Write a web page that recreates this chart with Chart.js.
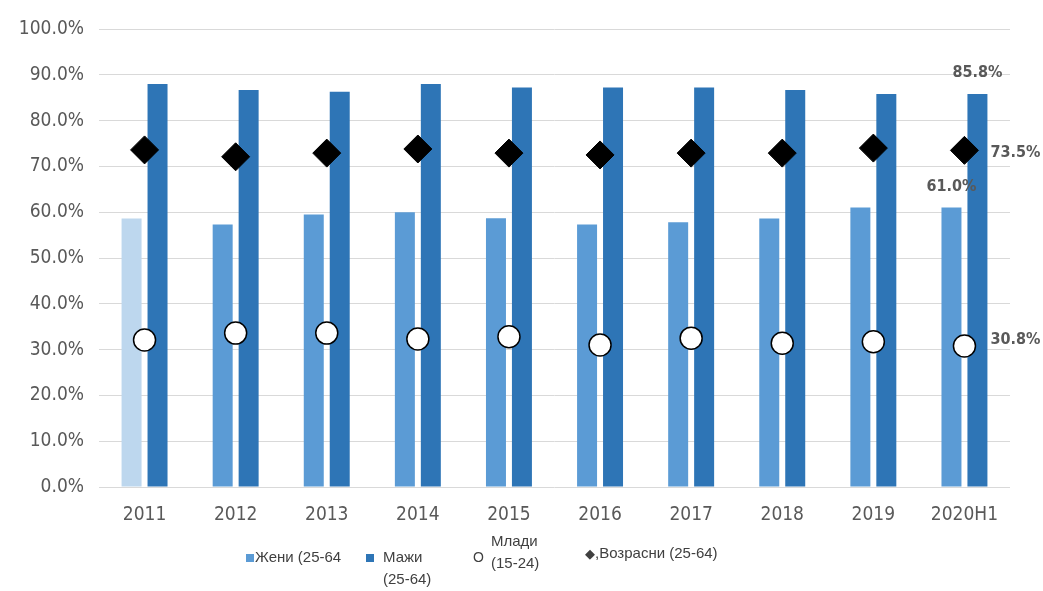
<!DOCTYPE html>
<html>
<head>
<meta charset="utf-8">
<script src="https://cdn.jsdelivr.net/npm/chart.js@4.4.1/dist/chart.umd.min.js"></script>
<style>
html,body{margin:0;padding:0;background:#fff;}
#wrap{position:relative;width:1043px;height:591px;}
canvas{position:absolute;left:0;top:0;}
.lg{position:absolute;font-family:"Liberation Sans","Arial",sans-serif;font-size:15px;color:#404040;line-height:22px;white-space:nowrap;}
.sq{display:inline-block;width:8px;height:8px;vertical-align:middle;margin-right:1px;}
</style>
</head>
<body>
<div id="wrap">
<canvas id="c" width="1043" height="591"></canvas>
<div class="lg" style="left:246px;top:546px;"><span class="sq" style="background:#5B9BD5"></span>Жени (25-64</div>
<div class="lg" style="left:366px;top:546px;"><span class="sq" style="background:#2E75B6;margin-right:9px"></span>Мажи<br><span style="padding-left:17px">(25-64)</span></div>
<div class="lg" style="left:473px;top:530px;"><span style="position:absolute;left:0;top:16px;font-size:14px">O</span><span style="padding-left:18px;display:inline-block">Млади<br>(15-24)</span></div>
<div class="lg" style="left:585px;top:542px;"><span style="font-size:13px">◆</span>,Возрасни (25-64)</div>
</div>
<script>
const categories = ["2011","2012","2013","2014","2015","2016","2017","2018","2019","2020H1"];
const women = [58.6, 57.3, 59.5, 60.0, 58.7, 57.3, 57.8, 58.6, 61.0, 61.0];
const men = [88.0, 86.7, 86.3, 88.0, 87.2, 87.2, 87.2, 86.7, 85.8, 85.8];
const youth = [32.1, 33.6, 33.6, 32.3, 32.8, 31.0, 32.5, 31.4, 31.7, 30.8];
const adults = [73.6, 72.1, 72.9, 73.8, 72.9, 72.5, 72.9, 72.9, 74.0, 73.5];
const seriesNames = ["Жени (25-64", "Мажи (25-64)", "Млади (15-24)", "Возрасни (25-64)"];

const womenColors = women.map((v,i)=> i===0 ? "#BDD7EE" : "#5B9BD5");
const condFont = "'DejaVu Sans Condensed','Liberation Sans Narrow','Liberation Sans',sans-serif";

const labelPlugin = {
  id: "lastLabels",
  afterDatasetsDraw(chart) {
    const ctx = chart.ctx;
    ctx.save();
    ctx.font = "bold 16px " + condFont;
    ctx.fillStyle = "#595959";
    const last = categories.length - 1;
    const spec = [
      {ds:0, dx:0, dy:-21, align:"center"},
      {ds:1, dx:0, dy:-21, align:"center"},
      {ds:2, dx:26, dy:-6, align:"left"},
      {ds:3, dx:26, dy:2, align:"left"}
    ];
    spec.forEach(s=>{
      const el = chart.getDatasetMeta(s.ds).data[last];
      const v = chart.data.datasets[s.ds].data[last];
      ctx.textAlign = s.align;
      ctx.textBaseline = "middle";
      ctx.fillText(v.toFixed(1) + "%", el.x + s.dx, el.y + s.dy);
    });
    ctx.restore();
  }
};

new Chart(document.getElementById("c"), {
  data: {
    labels: categories,
    datasets: [
      {type:"bar", label: seriesNames[0], data: women, backgroundColor: womenColors, order:2,
        categoryPercentage:0.57, barPercentage:0.77},
      {type:"bar", label: seriesNames[1], data: men, backgroundColor: "#2E75B6", order:2,
        categoryPercentage:0.57, barPercentage:0.77},
      {type:"line", label: seriesNames[2], data: youth, showLine:false, order:1,
        pointStyle:"circle", pointRadius:11, pointBackgroundColor:"#fff", pointBorderColor:"#000", pointBorderWidth:1.5},
      {type:"line", label: seriesNames[3], data: adults, showLine:false, order:1,
        pointStyle:"rectRot", pointRadius:14, pointBackgroundColor:"#000", pointBorderColor:"#000", pointBorderWidth:1}
    ]
  },
  options: {
    responsive:false,
    animation:false,
    events:[],
    layout:{padding:{top:29, right:33, left:0, bottom:0}},
    plugins:{legend:{display:false}, tooltip:{enabled:false}},
    scales:{
      x:{
        grid:{display:false},
        border:{display:false},
        ticks:{color:"#595959", font:{family:condFont, size:19}, padding:9},
        afterFit(s){ s.height = 104; }
      },
      y:{
        min:0, max:100,
        ticks:{stepSize:10, color:"#595959", padding:15,
          font:{family:condFont, size:19},
          callback:v=>v.toFixed(1)+"%"},
        grid:{color:"#D9D9D9", lineWidth:1, drawTicks:false},
        border:{display:false},
        afterFit(s){ s.width = 99; }
      }
    }
  },
  plugins:[labelPlugin]
});
</script>
</body>
</html>
